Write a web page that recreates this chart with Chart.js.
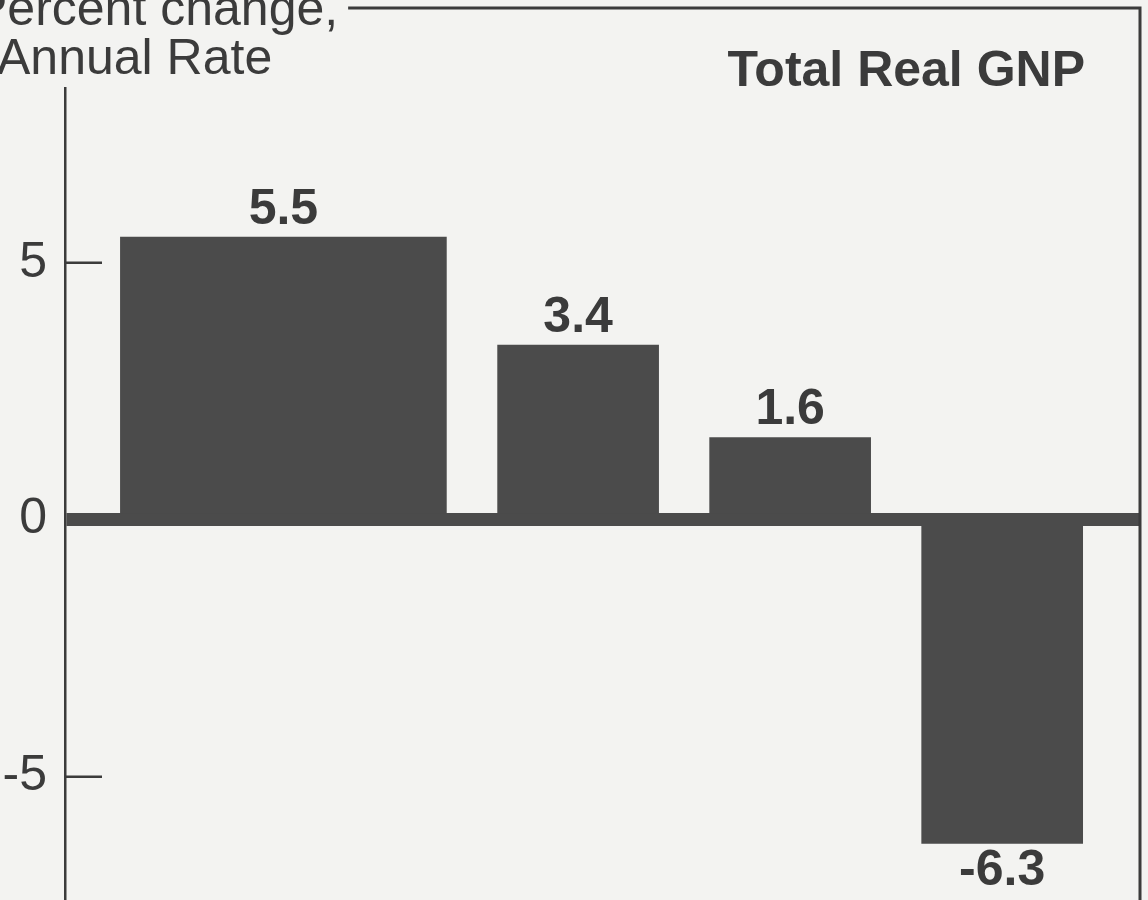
<!DOCTYPE html>
<html>
<head>
<meta charset="utf-8">
<title>Total Real GNP</title>
<script src="https://cdn.jsdelivr.net/npm/chart.js@4"></script>
<style>
  html, body { margin: 0; padding: 0; background: #f3f3f1; }
  canvas { display: block; }
</style>
</head>
<body>
<canvas id="gnpChart" width="1148" height="900"></canvas>
<script>
// Total Real GNP, percent change at annual rate
const values = [5.5, 3.4, 1.6, -6.3];
// where each period sits on the time axis (the first period is a longer one)
const periodPos = [0.61, 2, 3, 4];
const yTicks = [-5, 0, 5];
const axisCaption = ['Percent change,', 'Annual Rate'];
const chartTitle = 'Total Real GNP';

const ink = '#3b3b3b';
const barColor = '#4b4b4b';
const family = '"Liberation Sans", Arial, sans-serif';

const points = values.map((v, i) => ({ x: periodPos[i], y: v }));

// caption, title, frame and inward tick marks
const decor = {
    id: 'decor',
    afterDraw(chart) {
        const { ctx, chartArea } = chart;
        const y = chart.scales.y;
        ctx.save();
        ctx.fillStyle = ink;
        ctx.strokeStyle = ink;
        ctx.textBaseline = 'alphabetic';

        ctx.font = '50px ' + family;
        ctx.textAlign = 'left';
        ctx.fillText(axisCaption[0], -26, 25);
        ctx.fillText(axisCaption[1], -3, 74);
        const capEnd = -26 + ctx.measureText(axisCaption[0]).width + 10;

        ctx.font = 'bold 50px ' + family;
        ctx.textAlign = 'right';
        ctx.fillText(chartTitle, 1085, 86);

        // frame: top and right
        ctx.lineWidth = 3;
        ctx.beginPath();
        ctx.moveTo(capEnd, 8);
        ctx.lineTo(chartArea.right, 8);
        ctx.lineTo(chartArea.right, chart.height);
        ctx.stroke();

        // tick marks drawn inside the plot
        ctx.lineWidth = 2.5;
        yTicks.forEach(v => {
            if (v === 0) return;
            const py = y.getPixelForValue(v);
            ctx.beginPath();
            ctx.moveTo(chartArea.left, py);
            ctx.lineTo(chartArea.left + 37, py);
            ctx.stroke();
        });
        ctx.restore();
    }
};

// value labels above / below each bar
const valueLabels = {
    id: 'valueLabels',
    afterDatasetsDraw(chart) {
        const { ctx } = chart;
        ctx.save();
        ctx.fillStyle = ink;
        ctx.font = 'bold 50px ' + family;
        ctx.textAlign = 'center';
        ctx.textBaseline = 'alphabetic';
        chart.data.datasets.forEach((ds, di) => {
            chart.getDatasetMeta(di).data.forEach((bar, i) => {
                const v = ds.data[i].y;
                const ty = v >= 0 ? bar.y - 13 : bar.y + 42;
                ctx.fillText(v.toFixed(1), bar.x, ty);
            });
        });
        ctx.restore();
    }
};

new Chart(document.getElementById('gnpChart'), {
    type: 'bar',
    data: {
        datasets: [{
            label: 'longer period',
            data: points.slice(0, 1),
            backgroundColor: barColor,
            barThickness: 326
        }, {
            label: 'quarters',
            data: points.slice(1),
            backgroundColor: barColor,
            barThickness: 161
        }]
    },
    options: {
        responsive: false,
        animation: false,
        layout: { padding: { top: 88, right: 8, bottom: 0, left: 0 } },
        plugins: {
            legend: { display: false },
            tooltip: { enabled: false }
        },
        scales: {
            x: {
                type: 'linear',
                display: false,
                stacked: true,
                offset: false,
                min: -0.42,
                max: 4.65
            },
            y: {
                min: -7.4,
                max: 8.4,
                afterBuildTicks: s => { s.ticks = yTicks.map(v => ({ value: v })); },
                afterFit: s => {
                    s.width = 65;
                    s.paddingTop = 0;
                    s.paddingBottom = 0;
                },
                border: { display: true, color: ink, width: 2.5 },
                grid: {
                    drawTicks: false,
                    color: c => (c.tick && c.tick.value === 0) ? barColor : 'rgba(0,0,0,0)',
                    lineWidth: c => (c.tick && c.tick.value === 0) ? 13 : 1
                },
                ticks: {
                    padding: 18,
                    color: ink,
                    font: { family: family, size: 50 }
                }
            }
        }
    },
    plugins: [decor, valueLabels]
});
</script>
</body>
</html>
